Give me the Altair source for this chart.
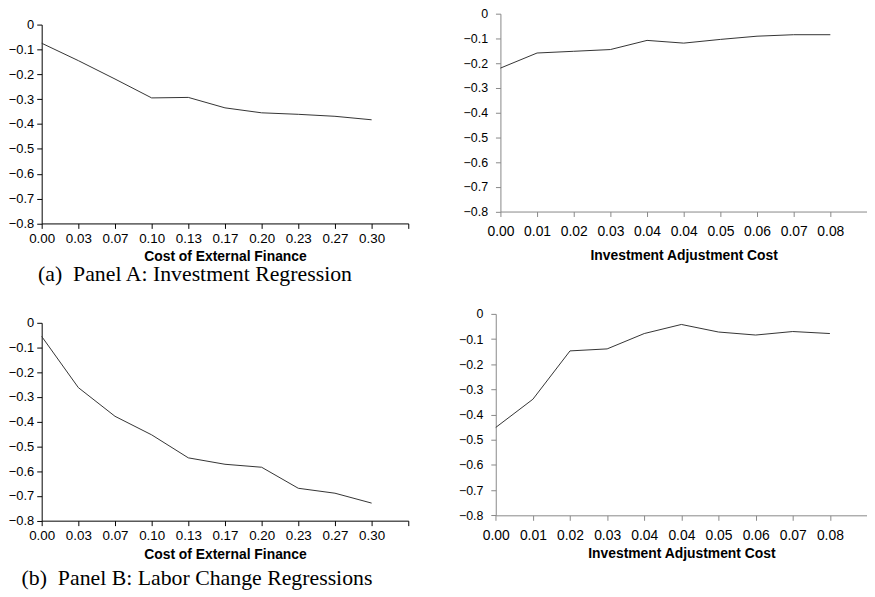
import json
import altair as alt
import pandas as pd

# ---- data ----
cost_labels = ["0.00", "0.03", "0.07", "0.10", "0.13", "0.17", "0.20", "0.23", "0.27", "0.30"]
adj_labels = ["0.00", "0.01", "0.02", "0.03", "0.04", "0.04", "0.05", "0.06", "0.07", "0.08"]

inv_vs_cost = [-0.075, -0.145, -0.219, -0.295, -0.293, -0.335, -0.355, -0.361, -0.369, -0.383]
inv_vs_adj = [-0.220, -0.159, -0.152, -0.145, -0.108, -0.119, -0.104, -0.091, -0.085, -0.085]
lab_vs_cost = [-0.055, -0.262, -0.378, -0.453, -0.546, -0.572, -0.584, -0.669, -0.689, -0.729]
lab_vs_adj = [-0.451, -0.339, -0.147, -0.139, -0.078, -0.042, -0.072, -0.084, -0.070, -0.078]

y_ticks = [0, -0.1, -0.2, -0.3, -0.4, -0.5, -0.6, -0.7, -0.8]
x_titles = ["Cost of External Finance", "Investment Adjustment Cost"]
captions = ["(a)\u00a0 Panel A: Investment Regression", "(b)\u00a0 Panel B: Labor Change Regressions"]

W, H = 867, 589
SANS = "Liberation Sans"
SERIF = "Liberation Serif"


def panel(values, labels, title, xr, yr, axis_color, xlab_size, ylab_size, xpad, ypad, title_y):
    df = pd.DataFrame({"i": list(range(len(values))), "v": values})
    n = len(labels)
    label_expr = json.dumps(labels + [""]) + "[datum.value]"
    x = alt.X(
        "i:Q",
        scale=alt.Scale(domain=[0, n], range=xr, nice=False, zero=False),
        axis=alt.Axis(
            orient="bottom", values=list(range(n + 1)), labelExpr=label_expr,
            offset=yr[0] - H, grid=False, title=title, titleY=title_y,
            titleBaseline="alphabetic", titleFont=SANS, titleFontSize=14,
            titleFontWeight="bold", titleColor="#000",
            labelFont=SANS, labelFontSize=xlab_size, labelColor="#000",
            labelPadding=xpad, tickSize=5, domainColor=axis_color,
            tickColor=axis_color, labelFlush=False, labelOverlap=False,
        ),
    )
    y = alt.Y(
        "v:Q",
        scale=alt.Scale(domain=[-0.8, 0], range=yr, nice=False, zero=False),
        axis=alt.Axis(
            orient="left", values=y_ticks, offset=-xr[0], grid=False, title=None,
            labelExpr="datum.value == 0 ? '0' : format(datum.value, '.1f')",
            labelFont=SANS, labelFontSize=ylab_size, labelColor="#000",
            labelPadding=ypad, tickSize=5, domainColor=axis_color,
            tickColor=axis_color, labelFlush=False, labelOverlap=False,
        ),
    )
    return alt.Chart(df).mark_line(color="#333", strokeWidth=1).encode(x=x, y=y)


tl = panel(inv_vs_cost, cost_labels, x_titles[0], [34, 404], [214.7, 14], "#000", 13.5, 13, 3, 3, 37)
tr = panel(inv_vs_adj, adj_labels, x_titles[1], [497, 867], [202.7, 3], "#888", 14, 12.5, 8, 8, 48)
bl = panel(lab_vs_cost, cost_labels, x_titles[0], [34, 404], [514.7, 315], "#000", 13.5, 13, 3, 3, 38)
br = panel(lab_vs_adj, adj_labels, x_titles[1], [492.3, 867], [509.3, 306], "#888", 14, 12.5, 8, 8, 42.5)


def caption(text, xpos, ypos):
    return alt.Chart(pd.DataFrame({"t": [text]})).mark_text(
        align="left", baseline="alphabetic", font=SERIF, fontSize=22, color="#000"
    ).encode(text="t:N", x=alt.value(xpos), y=alt.value(ypos))


chart = (
    alt.layer(
        tl, tr, bl, br,
        caption(captions[0], 30.3, 273),
        caption(captions[1], 13.7, 579.7),
    )
    .resolve_scale(x="independent", y="independent")
    .resolve_axis(x="independent", y="independent")
    .properties(width=W, height=H, padding=0, autosize=alt.AutoSizeParams(type="none"))
    .configure_view(stroke=None)
)

chart.save("out.html", embed_options={"renderer": "svg", "actions": False})
